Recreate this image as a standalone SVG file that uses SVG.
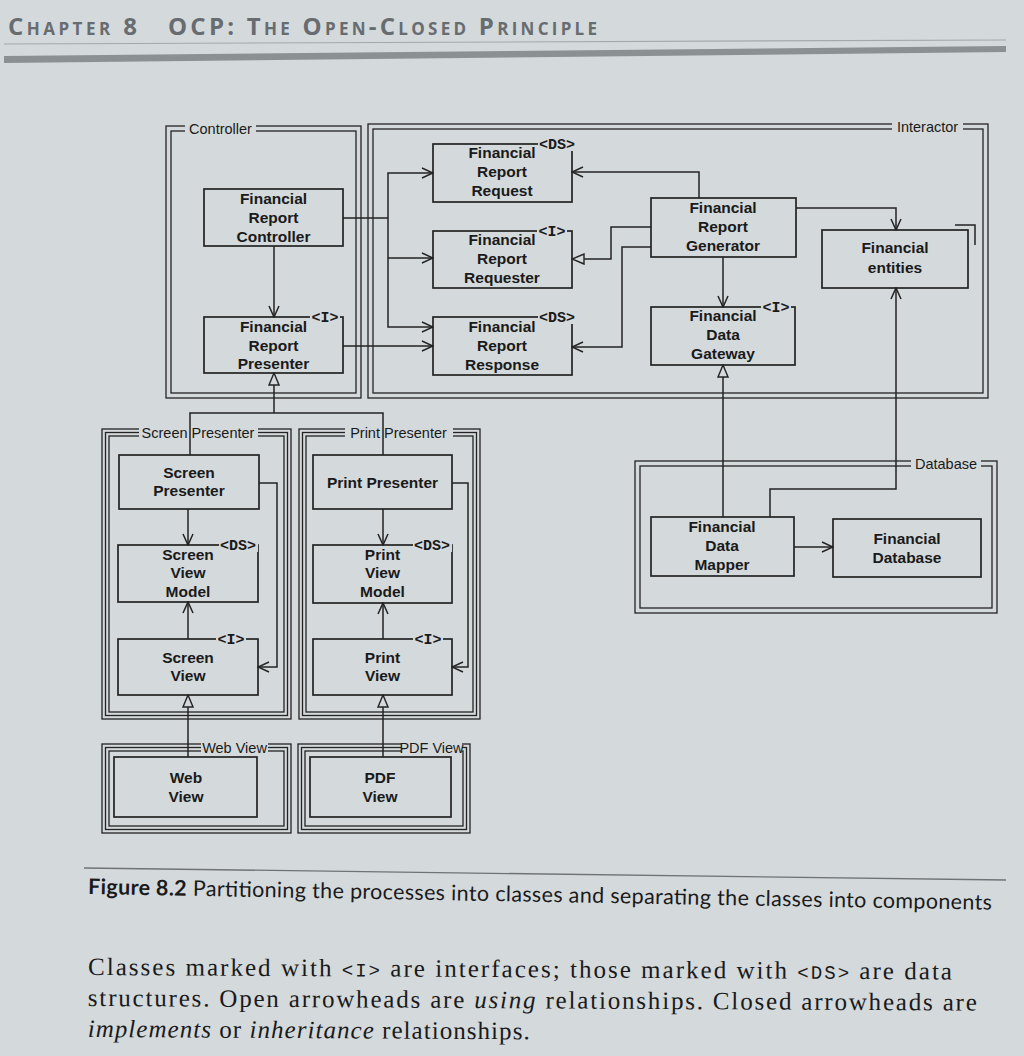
<svg xmlns="http://www.w3.org/2000/svg" width="1024" height="1056" viewBox="0 0 1024 1056">
<defs>
<style>
.bg{fill:#d4d9dc}
.bx{fill:none;stroke:#232323;stroke-width:1.7}
.pk{fill:none;stroke:#232323;stroke-width:1.3}
.ln{fill:none;stroke:#232323;stroke-width:1.5}
.m{fill:#d4d9dc}
.t{font-family:"Liberation Sans",Arial,sans-serif;font-weight:bold;font-size:15.5px;fill:#1a1a1a;text-anchor:middle}
.pl{font-family:"Liberation Sans",Arial,sans-serif;font-size:14.5px;fill:#1a1a1a;text-anchor:middle}
.st{font-family:"Liberation Mono","Courier New",monospace;font-size:15px;font-weight:bold;fill:#1a1a1a;text-anchor:middle}
.hd{font-family:"Open Sans",sans-serif;font-weight:700;font-size:24px;fill:#676c71;font-variant:small-caps}
.cap{font-family:Lato,"Open Sans",sans-serif;font-size:21.5px;fill:#1a1a1a}
.body{font-family:"Liberation Serif","Times New Roman",serif;font-size:25px;fill:#1a1a1a}
.mono{font-family:"Liberation Mono","Courier New",monospace;font-size:19px}
</style>
<marker id="ao" viewBox="0 0 13 12" refX="12" refY="6" markerWidth="13" markerHeight="12" markerUnits="userSpaceOnUse" orient="auto"><path d="M1,1 L12,6 L1,11" fill="none" stroke="#232323" stroke-width="1.5"/></marker>
<marker id="at" viewBox="0 0 14 12" refX="13" refY="6" markerWidth="14" markerHeight="12" markerUnits="userSpaceOnUse" orient="auto"><path d="M1,1 L13,6 L1,11 Z" fill="#d4d9dc" stroke="#232323" stroke-width="1.4"/></marker>
</defs>
<rect class="bg" x="0" y="0" width="1024" height="1056"/>

<g id="header">
<text class="hd" x="8" y="35" textLength="129" lengthAdjust="spacing">Chapter 8</text>
<text class="hd" x="168" y="35" textLength="429" lengthAdjust="spacing">OCP: The Open-Closed Principle</text>
<line x1="4" y1="44" x2="1006" y2="40" stroke="#a3a8ab" stroke-width="1.2"/>
<polygon points="4,56 1006,46 1006,52 4,63" fill="#8b9093"/>
</g>

<g id="pkg-controller">
<rect class="pk" x="166" y="126" width="195" height="272"/>
<rect class="pk" x="171" y="131" width="185" height="262"/>
<rect class="m" x="185" y="122" width="71" height="13"/>
<text class="pl" x="220.5" y="133.5">Controller</text>
</g>
<g id="pkg-interactor">
<rect class="pk" x="368" y="124" width="620" height="274"/>
<rect class="pk" x="373" y="129" width="610" height="264"/>
<rect class="m" x="892" y="120" width="71" height="13"/>
<text class="pl" x="927.5" y="131.5">Interactor</text>
</g>
<g id="pkg-database">
<rect class="pk" x="635" y="461" width="362" height="152"/>
<rect class="pk" x="640" y="466" width="352" height="142"/>
<rect class="m" x="911" y="457" width="70" height="13"/>
<text class="pl" x="946" y="469">Database</text>
</g>
<g id="pkg-screen-presenter">
<rect class="pk" x="102" y="429" width="189" height="290"/>
<rect class="pk" x="105.5" y="432.5" width="182" height="283"/>
<rect class="pk" x="109" y="436" width="175" height="276"/>
<rect class="m" x="139" y="426" width="119" height="13"/>
<text class="pl" x="198" y="437.5">Screen Presenter</text>
</g>
<g id="pkg-print-presenter">
<rect class="pk" x="299" y="429" width="181" height="290"/>
<rect class="pk" x="302.5" y="432.5" width="174" height="283"/>
<rect class="pk" x="306" y="436" width="167" height="276"/>
<rect class="m" x="345" y="426" width="108" height="13"/>
<text class="pl" x="398.5" y="437.5">Print Presenter</text>
</g>
<g id="pkg-web-view">
<rect class="pk" x="102" y="744" width="189" height="89"/>
<rect class="pk" x="105.5" y="747.5" width="182" height="82"/>
<rect class="pk" x="109" y="751" width="175" height="75"/>
<rect class="m" x="201" y="741" width="67" height="13"/>
<text class="pl" x="234.5" y="752.5">Web View</text>
</g>
<g id="pkg-pdf-view">
<rect class="pk" x="298" y="744" width="172" height="89"/>
<rect class="pk" x="301.5" y="747.5" width="165" height="82"/>
<rect class="pk" x="305" y="751" width="158" height="75"/>
<rect class="m" x="401" y="741" width="61" height="13"/>
<text class="pl" x="431.5" y="752.5">PDF View</text>
</g>

<g id="financial-report-controller">
<rect class="bx" x="204" y="189" width="139" height="57"/>
<text class="t" x="273.5" y="204">Financial</text>
<text class="t" x="273.5" y="223">Report</text>
<text class="t" x="273.5" y="242">Controller</text>
</g>
<g id="financial-report-presenter">
<rect class="bx" x="204" y="317" width="139" height="56"/>
<rect class="m" x="310" y="310" width="30" height="13"/>
<text class="st" x="325" y="322">&lt;I&gt;</text>
<text class="t" x="273.5" y="332">Financial</text>
<text class="t" x="273.5" y="351">Report</text>
<text class="t" x="273.5" y="369">Presenter</text>
</g>
<g id="financial-report-request">
<rect class="bx" x="433" y="144" width="139" height="58"/>
<rect class="m" x="538" y="137" width="39" height="14"/>
<text class="st" x="557" y="149">&lt;DS&gt;</text>
<text class="t" x="502" y="158">Financial</text>
<text class="t" x="502" y="177">Report</text>
<text class="t" x="502" y="196">Request</text>
</g>
<g id="financial-report-requester">
<rect class="bx" x="433" y="231" width="139" height="57"/>
<rect class="m" x="537" y="224" width="30" height="13"/>
<text class="st" x="552" y="236">&lt;I&gt;</text>
<text class="t" x="502" y="245">Financial</text>
<text class="t" x="502" y="264">Report</text>
<text class="t" x="502" y="283">Requester</text>
</g>
<g id="financial-report-response">
<rect class="bx" x="433" y="317" width="139" height="58"/>
<rect class="m" x="538" y="310" width="39" height="14"/>
<text class="st" x="557" y="322">&lt;DS&gt;</text>
<text class="t" x="502" y="332">Financial</text>
<text class="t" x="502" y="351">Report</text>
<text class="t" x="502" y="370">Response</text>
</g>
<g id="financial-report-generator">
<rect class="bx" x="651" y="198" width="145" height="59"/>
<text class="t" x="723" y="213">Financial</text>
<text class="t" x="723" y="232">Report</text>
<text class="t" x="723" y="251">Generator</text>
</g>
<g id="financial-entities">
<rect class="bx" x="822" y="230" width="146" height="58"/>
<path class="ln" d="M955,225 H975 V245"/>
<text class="t" x="895" y="253">Financial</text>
<text class="t" x="895" y="273">entities</text>
</g>
<g id="financial-data-gateway">
<rect class="bx" x="651" y="307" width="144" height="58"/>
<rect class="m" x="761" y="300" width="30" height="13"/>
<text class="st" x="776" y="312">&lt;I&gt;</text>
<text class="t" x="723" y="321">Financial</text>
<text class="t" x="723" y="340">Data</text>
<text class="t" x="723" y="359">Gateway</text>
</g>
<g id="financial-data-mapper">
<rect class="bx" x="651" y="517" width="143" height="59"/>
<text class="t" x="722" y="532">Financial</text>
<text class="t" x="722" y="551">Data</text>
<text class="t" x="722" y="570">Mapper</text>
</g>
<g id="financial-database">
<rect class="bx" x="833" y="519" width="148" height="58"/>
<text class="t" x="907" y="544">Financial</text>
<text class="t" x="907" y="563">Database</text>
</g>
<g id="screen-presenter">
<rect class="bx" x="119" y="455" width="140" height="54"/>
<text class="t" x="189" y="478">Screen</text>
<text class="t" x="189" y="496">Presenter</text>
</g>
<g id="screen-view-model">
<rect class="bx" x="118" y="545" width="140" height="57"/>
<rect class="m" x="219" y="538" width="39" height="14"/>
<text class="st" x="238" y="550">&lt;DS&gt;</text>
<text class="t" x="188" y="560">Screen</text>
<text class="t" x="188" y="578">View</text>
<text class="t" x="188" y="597">Model</text>
</g>
<g id="screen-view">
<rect class="bx" x="118" y="639" width="140" height="56"/>
<rect class="m" x="216" y="632" width="30" height="13"/>
<text class="st" x="231" y="644">&lt;I&gt;</text>
<text class="t" x="188" y="663">Screen</text>
<text class="t" x="188" y="681">View</text>
</g>
<g id="print-presenter">
<rect class="bx" x="313" y="455" width="139" height="54"/>
<text class="t" x="382.5" y="488">Print Presenter</text>
</g>
<g id="print-view-model">
<rect class="bx" x="313" y="545" width="139" height="58"/>
<rect class="m" x="413" y="538" width="39" height="14"/>
<text class="st" x="432" y="550">&lt;DS&gt;</text>
<text class="t" x="382.5" y="560">Print</text>
<text class="t" x="382.5" y="578">View</text>
<text class="t" x="382.5" y="597">Model</text>
</g>
<g id="print-view">
<rect class="bx" x="313" y="639" width="139" height="56"/>
<rect class="m" x="413" y="632" width="30" height="13"/>
<text class="st" x="428" y="644">&lt;I&gt;</text>
<text class="t" x="382.5" y="663">Print</text>
<text class="t" x="382.5" y="681">View</text>
</g>
<g id="web-view">
<rect class="bx" x="114" y="757" width="143" height="60"/>
<text class="t" x="186" y="783">Web</text>
<text class="t" x="186" y="802">View</text>
</g>
<g id="pdf-view">
<rect class="bx" x="310" y="757" width="141" height="60"/>
<text class="t" x="380" y="783">PDF</text>
<text class="t" x="380" y="802">View</text>
</g>

<g id="connectors">
<path class="ln" d="M274,246 V317" marker-end="url(#ao)"/>
<path class="ln" d="M343,218 H388"/>
<path class="ln" d="M388,218 V173 H433" marker-end="url(#ao)"/>
<path class="ln" d="M388,258 H433" marker-end="url(#ao)"/>
<path class="ln" d="M388,218 V327 H433" marker-end="url(#ao)"/>
<path class="ln" d="M343,346 H433" marker-end="url(#ao)"/>
<path class="ln" d="M190,455 V413 H383 V455"/>
<path class="ln" d="M274,413 V373" marker-end="url(#at)"/>
<path class="ln" d="M699,198 V172 H572" marker-end="url(#ao)"/>
<path class="ln" d="M651,227 H611 V259 H572" marker-end="url(#at)"/>
<path class="ln" d="M651,247 H622 V347 H572" marker-end="url(#ao)"/>
<path class="ln" d="M796,208 H896 V230" marker-end="url(#ao)"/>
<path class="ln" d="M723,257 V307" marker-end="url(#ao)"/>
<path class="ln" d="M723,517 V365" marker-end="url(#at)"/>
<path class="ln" d="M770,517 V489 H896 V288" marker-end="url(#ao)"/>
<path class="ln" d="M794,547 H833" marker-end="url(#ao)"/>
<path class="ln" d="M188,509 V545" marker-end="url(#ao)"/>
<path class="ln" d="M188,639 V602" marker-end="url(#ao)"/>
<path class="ln" d="M259,483 H277 V667 H258" marker-end="url(#ao)"/>
<path class="ln" d="M188,757 V695" marker-end="url(#at)"/>
<path class="ln" d="M383,509 V545" marker-end="url(#ao)"/>
<path class="ln" d="M383,639 V603" marker-end="url(#ao)"/>
<path class="ln" d="M452,483 H468 V667 H452" marker-end="url(#ao)"/>
<path class="ln" d="M383,757 V695" marker-end="url(#at)"/>
</g>

<g id="caption">
<line x1="84" y1="868" x2="1006" y2="880" stroke="#6f7376" stroke-width="1.3"/>
<text class="cap" x="88" y="894" transform="rotate(1 88 894)" textLength="904" lengthAdjust="spacing"><tspan font-weight="bold">Figure 8.2</tspan> Partitioning the processes into classes and separating the classes into components</text>
</g>
<g id="body-text" transform="rotate(0.3 88 976)">
<text class="body" x="88" y="975" textLength="864" lengthAdjust="spacing">Classes marked with <tspan class="mono">&lt;I&gt;</tspan> are interfaces; those marked with <tspan class="mono">&lt;DS&gt;</tspan> are data</text>
<text class="body" x="88" y="1006" textLength="889" lengthAdjust="spacing">structures. Open arrowheads are <tspan font-style="italic">using</tspan> relationships. Closed arrowheads are</text>
<text class="body" x="88" y="1037" textLength="442" lengthAdjust="spacing"><tspan font-style="italic">implements</tspan> or <tspan font-style="italic">inheritance</tspan> relationships.</text>
</g>
</svg>
